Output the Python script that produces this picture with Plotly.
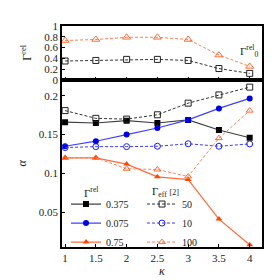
import plotly.graph_objects as go
from plotly.subplots import make_subplots

kappa = [1, 1.5, 2, 2.5, 3, 3.5, 4]

# top panel: Gamma^rel for Gamma_eff = 50 and 100
top_g50 = [0.35, 0.36, 0.38, 0.38, 0.36, 0.21, 0.12]
top_g100 = [0.73, 0.75, 0.79, 0.79, 0.75, 0.46, 0.25]
GAMMA0 = 0.33

# bottom panel: alpha
a_rel0375 = [0.166, 0.165, 0.168, 0.165, 0.169, 0.156, 0.146]
a_rel0075 = [0.135, 0.1415, 0.150, 0.1585, 0.169, 0.1838, 0.1967]
a_rel075 = [0.120, 0.120, 0.112, 0.0955, 0.092, 0.041, 0.008]
a_eff50 = [0.181, 0.171, 0.170, 0.1756, 0.1906, 0.2012, 0.2113]
a_eff10 = [0.1333, 0.1345, 0.1345, 0.135, 0.1382, 0.135, 0.138]
a_eff100 = [0.120, 0.120, 0.106, 0.105, 0.096, 0.1455, 0.181]

rel_names = ["0.375", "0.075", "0.75"]
eff_names = ["50", "10", "100"]

FONT = "Liberation Serif"

fig = make_subplots(rows=2, cols=1, shared_xaxes=True, vertical_spacing=0,
                    row_heights=[57, 177])

# top panel
fig.add_hline(y=GAMMA0, line=dict(color="#cc4444", width=1.2), row=1, col=1)
fig.add_trace(go.Scatter(x=kappa, y=top_g50, mode="lines+markers", showlegend=False,
                         line=dict(color="#333333", width=1, dash="3px,2px"),
                         marker=dict(symbol="square-open", size=6, color="#222222", line=dict(width=1))),
              row=1, col=1)
fig.add_trace(go.Scatter(x=kappa, y=top_g100, mode="lines+markers", showlegend=False,
                         line=dict(color="#ff7f50", width=1, dash="3px,2px"),
                         marker=dict(symbol="triangle-up-open", size=7, color="#ff6a33", line=dict(width=1))),
              row=1, col=1)

# bottom panel - solid (Gamma^rel)
solid = [(a_rel0375, "rgba(0,0,0,0.75)", "#000000", "square"),
         (a_rel0075, "#4040ff", "#0000e0", "circle"),
         (a_rel075, "#ff6a3a", "#ff4500", "triangle-up")]
for (ys, lc, mc, sym), nm in zip(solid, rel_names):
    fig.add_trace(go.Scatter(x=kappa, y=ys, mode="lines+markers", name=nm, legend="legend",
                             line=dict(color=lc, width=1.2),
                             marker=dict(symbol=sym, size=6, color=mc)),
                  row=2, col=1)

dashed = [(a_eff50, "#333333", "#222222", "square-open"),
          (a_eff10, "#3a3aff", "#1a1aff", "circle-open"),
          (a_eff100, "#ff7f50", "#ff6a33", "triangle-up-open")]
for (ys, lc, mc, sym), nm in zip(dashed, eff_names):
    fig.add_trace(go.Scatter(x=kappa, y=ys, mode="lines+markers", name=nm, legend="legend2",
                             line=dict(color=lc, width=1, dash="3px,2px"),
                             marker=dict(symbol=sym, size=6, color=mc, line=dict(width=1))),
                  row=2, col=1)

axis_common = dict(showline=True, linecolor="black", linewidth=1.5, mirror=True,
                   ticks="inside", ticklen=3, tickcolor="black", showgrid=False, zeroline=False,
                   tickfont=dict(family=FONT, size=11, color="#222"))

fig.update_xaxes(range=[0.95, 4.2], tickvals=kappa, ticktext=["1", "1.5", "2", "2.5", "3", "3.5", "4"],
                 **axis_common)
fig.update_xaxes(showticklabels=False, row=1, col=1)
fig.update_xaxes(title=dict(text="<i>κ</i>", font=dict(family=FONT, size=12), standoff=4), row=2, col=1)
fig.update_yaxes(range=[0, 1], tickvals=[0, 0.2, 0.4, 0.6, 0.8, 1],
                 ticktext=["0", "0.2", "0.4", "0.6", "0.8", "1"],
                 title=dict(text="Γ<sup>rel</sup>", font=dict(family=FONT, size=12), standoff=10),
                 row=1, col=1, **axis_common)
fig.update_yaxes(range=[0.005, 0.2207], tickvals=[0.05, 0.1, 0.15, 0.2],
                 ticktext=["0.05", "0.1", "0.15", "0.2"],
                 title=dict(text="<i>α</i>", font=dict(family=FONT, size=12), standoff=10),
                 row=2, col=1, **axis_common)

fig.add_annotation(x=4.17, y=GAMMA0, xref="x", yref="y", text="Γ<sup>rel</sup><sub>0</sub>",
                   showarrow=False, yanchor="bottom", xanchor="right", yshift=1,
                   font=dict(family=FONT, size=11, color="#222"))

# legend column titles
fig.add_annotation(x=0.10, y=0.247, xref="paper", yref="paper", text="Γ<sup>rel</sup>",
                   showarrow=False, xanchor="left", yanchor="middle",
                   font=dict(family=FONT, size=11, color="#222"))
fig.add_annotation(x=0.44, y=0.247, xref="paper", yref="paper",
                   text="Γ<sub>eff</sub> <span style='font-size:8px'>[2]</span>",
                   showarrow=False, xanchor="left", yanchor="middle",
                   font=dict(family=FONT, size=11, color="#222"))

legend_common = dict(bgcolor="rgba(0,0,0,0)", borderwidth=0, itemwidth=30, tracegroupgap=0,
                     font=dict(family=FONT, size=10, color="#222"),
                     xanchor="left", yanchor="top", yref="paper", xref="paper")
fig.update_layout(
    width=280, height=280,
    margin=dict(l=51, r=26, t=13, b=33),
    plot_bgcolor="white", paper_bgcolor="white",
    font=dict(family=FONT, size=11, color="#222"),
    legend=dict(x=0.02, y=0.26, **legend_common),
    legend2=dict(x=0.40, y=0.26, **legend_common),
)

fig.write_html("out.html")
